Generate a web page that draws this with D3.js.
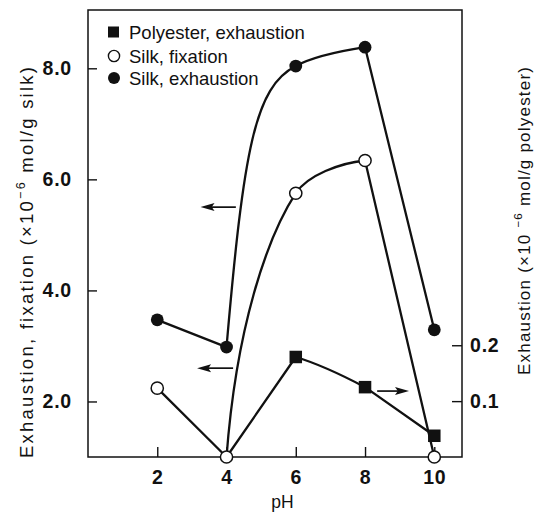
<!DOCTYPE html>
<html>
<head>
<meta charset="utf-8">
<script src="https://cdn.jsdelivr.net/npm/d3@7/dist/d3.min.js"></script>
<style>
  html, body { margin: 0; padding: 0; background: #fff; }
  svg { display: block; font-family: "Liberation Sans", Arial, Helvetica, sans-serif; }
</style>
</head>
<body>
<svg id="chart" width="536" height="514"></svg>
<script>
// Dye uptake versus pH
const pH = [2, 4, 6, 8, 10];
const silkExhaustion = [3.47, 2.98, 8.04, 8.38, 3.29];   // ×10^-6 mol/g silk
const silkFixation = [2.24, 1.0, 5.75, 6.34, 1.0];       // ×10^-6 mol/g silk
const polyesterPH = [4, 6, 8, 10];
const polyesterExhaustion = [0, 0.179, 0.125, 0.038];    // ×10^-6 mol/g polyester

const xTicks = [2, 4, 6, 8, 10];
const leftTicks = [2.0, 4.0, 6.0, 8.0];
const rightTicks = [0.1, 0.2];
const legendLabels = ["Polyester, exhaustion", "Silk, fixation", "Silk, exhaustion"];

// Arrows telling which axis each curve is read against
const arrowFromPH = [4.27, 4.19, 8.35];
const arrowToPH = [3.25, 3.15, 9.27];
const arrowLevel = [5.50, 2.60, 0.118];
const arrowAxis = ["left", "left", "right"];

const svg = d3.select("#chart");
const W = 536, H = 514;
const plot = { left: 88, right: 462, top: 10, bottom: 457 };
const ink = "#111";

const x = d3.scaleLinear().domain([0, 10.8]).range([plot.left, plot.right]);
const yL = d3.scaleLinear().domain([1.0, 9.05]).range([plot.bottom, plot.top]);
const yR = d3.scaleLinear().domain([0, 0.8]).range([plot.bottom, plot.top]);

svg.append("rect").attr("width", W).attr("height", H).attr("fill", "#fff");

// Axes (ticks point into the plot)
function styleAxis(g, size, weight, spacing) {
  g.select(".domain").remove();
  g.selectAll(".tick line").attr("stroke", ink).attr("stroke-width", 1.4);
  g.selectAll(".tick text")
    .attr("fill", ink)
    .attr("font-family", "'Liberation Sans', Arial, sans-serif")
    .attr("font-size", size)
    .attr("font-weight", weight)
    .attr("letter-spacing", spacing);
}

svg.append("g")
  .attr("transform", `translate(0,${plot.bottom})`)
  .call(d3.axisBottom(x).tickValues(xTicks).tickSize(-10).tickPadding(13).tickFormat(d3.format("d")))
  .call(g => styleAxis(g, 19.5, "bold", 0.8));

svg.append("g")
  .attr("transform", `translate(${plot.left},0)`)
  .call(d3.axisLeft(yL).tickValues(leftTicks).tickSize(-9).tickPadding(16).tickFormat(d3.format(".1f")))
  .call(g => styleAxis(g, 19.5, "bold", 0.8));

svg.append("g")
  .attr("transform", `translate(${plot.right},0)`)
  .call(d3.axisRight(yR).tickValues(rightTicks).tickSize(-10).tickPadding(8).tickFormat(d3.format(".1f")))
  .call(g => styleAxis(g, 19.5, "bold", 0.8));

// Frame
svg.append("rect")
  .attr("x", plot.left).attr("y", plot.top)
  .attr("width", plot.right - plot.left).attr("height", plot.bottom - plot.top)
  .attr("fill", "none").attr("stroke", ink).attr("stroke-width", 1.5);

// Piecewise path: straight segments, or cubic bends whose handles are
// given as fractions of the segment's own dx / dy.
function bentPath(pts, bends) {
  const p = d3.path();
  p.moveTo(pts[0][0], pts[0][1]);
  for (let i = 1; i < pts.length; i++) {
    const a = pts[i - 1], b = pts[i], bend = bends[i - 1];
    if (!bend) { p.lineTo(b[0], b[1]); continue; }
    const dx = b[0] - a[0], dy = b[1] - a[1];
    p.bezierCurveTo(
      a[0] + bend.c1[0] * dx, a[1] + bend.c1[1] * dy,
      b[0] - bend.c2[0] * dx, b[1] - bend.c2[1] * dy,
      b[0], b[1]);
  }
  return p.toString();
}

const exhPts = pH.map((d, i) => [x(d), yL(silkExhaustion[i])]);
const fixPts = pH.map((d, i) => [x(d), yL(silkFixation[i])]);
const polPts = polyesterPH.map((d, i) => [x(d), yR(polyesterExhaustion[i])]);

const lines = svg.append("g")
  .attr("fill", "none").attr("stroke", ink).attr("stroke-width", 2.3)
  .attr("stroke-linejoin", "round");

lines.append("path").attr("d", bentPath(exhPts, [
  null,
  { c1: [0.25, 0.71], c2: [0.59, 0.075] },
  { c1: [0.28, 0.56], c2: [0.28, 0.16] },
  null
]));
lines.append("path").attr("d", bentPath(fixPts, [
  null,
  { c1: [0.14, 0.49], c2: [0.42, 0.17] },
  { c1: [0.17, 0.55], c2: [0.36, 0.076] },
  null
]));
lines.append("path").attr("d", bentPath(polPts, [
  null,
  { c1: [0.33, 0.23], c2: [0.33, 0.40] },
  null
]));

// Arrows
const arrows = svg.append("g");
arrowFromPH.forEach((from, i) => {
  const yy = (arrowAxis[i] === "left" ? yL : yR)(arrowLevel[i]);
  const x0 = x(from), x1 = x(arrowToPH[i]);
  const dir = Math.sign(x1 - x0);
  const headLen = 14, headHalf = 4;
  arrows.append("line")
    .attr("x1", x0).attr("y1", yy).attr("x2", x1 - dir * headLen * 0.6).attr("y2", yy)
    .attr("stroke", ink).attr("stroke-width", 1.7);
  const hp = d3.path();
  hp.moveTo(x1, yy);
  hp.lineTo(x1 - dir * headLen, yy - headHalf);
  hp.lineTo(x1 - dir * headLen * 0.8, yy);
  hp.lineTo(x1 - dir * headLen, yy + headHalf);
  hp.closePath();
  arrows.append("path").attr("d", hp.toString()).attr("fill", ink);
});

// Markers
const marks = svg.append("g");
const sq = 12.5;
// a zero reading lies on the axis, where the fixation circle already sits
marks.selectAll("rect.pol").data(polPts.filter((d, i) => polyesterExhaustion[i] > 0))
  .join("rect").attr("class", "pol")
  .attr("x", d => d[0] - sq / 2).attr("y", d => d[1] - sq / 2)
  .attr("width", sq).attr("height", sq).attr("fill", ink);
marks.selectAll("circle.exh").data(exhPts).join("circle").attr("class", "exh")
  .attr("cx", d => d[0]).attr("cy", d => d[1]).attr("r", 6.4).attr("fill", ink);
marks.selectAll("circle.fix").data(fixPts).join("circle").attr("class", "fix")
  .attr("cx", d => d[0]).attr("cy", d => d[1]).attr("r", 6.1)
  .attr("fill", "#fff").attr("stroke", ink).attr("stroke-width", 1.5);

// Legend
const legend = svg.append("g");
const legY = [32, 56, 78];
legend.append("rect").attr("x", 108).attr("y", legY[0] - 5.5).attr("width", 11).attr("height", 11).attr("fill", ink);
legend.append("circle").attr("cx", 114).attr("cy", legY[1]).attr("r", 5.6)
  .attr("fill", "#fff").attr("stroke", ink).attr("stroke-width", 1.4);
legend.append("circle").attr("cx", 114).attr("cy", legY[2]).attr("r", 6).attr("fill", ink);
legend.selectAll("text").data(legendLabels).join("text")
  .attr("x", 129).attr("y", (d, i) => legY[i]).attr("dy", "0.36em")
  .attr("font-size", 18.5).attr("fill", ink).text(d => d);

// Axis titles
function rotatedTitle(cx, cy, size, len, before, after) {
  const t = svg.append("text")
    .attr("transform", `translate(${cx},${cy}) rotate(-90)`)
    .attr("text-anchor", "middle")
    .attr("font-size", size).attr("fill", ink)
    .attr("textLength", len).attr("lengthAdjust", "spacing");
  t.append("tspan").text(before);
  t.append("tspan").attr("dy", -size * 0.42).attr("font-size", size * 0.68).text("\u22126");
  t.append("tspan").attr("dy", size * 0.42).text(after);
  return t;
}
rotatedTitle(33, 262.5, 18.5, 391, "Exhaustion, fixation (\u00d710", " mol/g silk)");
rotatedTitle(529.5, 221, 17, 308, "Exhaustion (\u00d710 ", " mol/g polyester)");

svg.append("text")
  .attr("x", 282.5).attr("y", 508).attr("text-anchor", "middle")
  .attr("font-size", 17.5).attr("fill", ink).text("pH");
</script>
</body>
</html>
